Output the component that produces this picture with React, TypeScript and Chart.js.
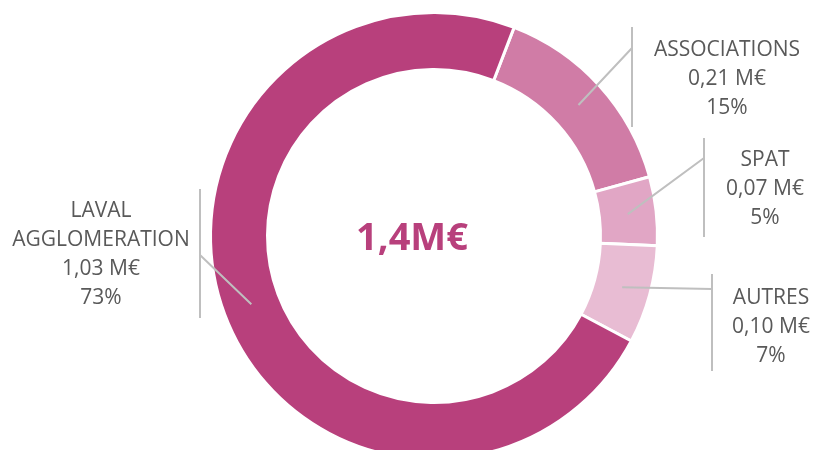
import React, { useEffect, useRef } from "react";
import { Chart, registerables } from "chart.js";

Chart.register(...registerables);

const categories: string[][] = [["ASSOCIATIONS"], ["SPAT"], ["AUTRES"], ["LAVAL", "AGGLOMERATION"]];
const values: number[] = [0.21, 0.07, 0.1, 1.03];
const colors: string[] = ["#D07CA6", "#E1A6C5", "#E8BCD3", "#B8407C"];

// annotation layout (label boxes / callout lines), canvas pixels
const labelLayout = [
  { lineX: 632, top: 27, bottom: 127, attachY: 48, textX: 727, firstBaseline: 56 },
  { lineX: 704, top: 138, bottom: 237, attachY: 158, textX: 765, firstBaseline: 166 },
  { lineX: 712, top: 274, bottom: 371, attachY: 289, textX: 771, firstBaseline: 304 },
  { lineX: 200, top: 189, bottom: 318, attachY: 255, textX: 101, firstBaseline: 217 },
];
const LINE_H = 29;

const fmt = (v: number, d: number) => v.toFixed(d).replace(".", ",");

export default function App() {
  const ref = useRef<HTMLCanvasElement | null>(null);
  useEffect(() => {
    if (!ref.current) return;
    const total = values.reduce((a, b) => a + b, 0);
    const labelPlugin = {
      id: "labels",
      afterDraw(chart: any) {
        const ctx = chart.ctx;
        const meta = chart.getDatasetMeta(0);
        ctx.save();
        const a0 = meta.data[0];
        ctx.fillStyle = "#B8407C";
        ctx.font = "bold 38px 'Open Sans'";
        ctx.textAlign = "center";
        ctx.textBaseline = "alphabetic";
        ctx.fillText(fmt(total, 1) + "M€", a0.x - 22, a0.y + 14);
        meta.data.forEach((arc: any, i: number) => {
          const L = labelLayout[i];
          const mid = (arc.startAngle + arc.endAngle) / 2;
          const r = (arc.innerRadius + arc.outerRadius) / 2;
          const px = arc.x + Math.cos(mid) * r;
          const py = arc.y + Math.sin(mid) * r;
          ctx.strokeStyle = "#BFBFBF";
          ctx.lineWidth = 2;
          ctx.beginPath();
          ctx.moveTo(L.lineX, L.top);
          ctx.lineTo(L.lineX, L.bottom);
          ctx.moveTo(L.lineX, L.attachY);
          ctx.lineTo(px, py);
          ctx.stroke();
          const lines = [
            ...categories[i],
            fmt(values[i], 2) + " M€",
            Math.round((values[i] / total) * 100) + "%",
          ];
          ctx.fillStyle = "#595959";
          ctx.font = "21px 'Open Sans'";
          ctx.textAlign = "center";
          lines.forEach((t, k) => ctx.fillText(t, L.textX, L.firstBaseline + k * LINE_H));
        });
        ctx.restore();
      },
    };
    const chart = new Chart(ref.current, {
      type: "doughnut",
      data: {
        labels: categories.map((c) => c.join(" ")),
        datasets: [
          {
            data: values,
            backgroundColor: colors,
            borderColor: "#FFFFFF",
            borderWidth: 3,
          },
        ],
      },
      options: {
        responsive: false,
        animation: false,
        rotation: 21,
        radius: 223.5,
        cutout: "74.5%",
        layout: { padding: { left: 212, right: 160, top: 14, bottom: 12 } },
        plugins: { legend: { display: false }, tooltip: { enabled: false } },
      } as any,
      plugins: [labelPlugin],
    });
    return () => chart.destroy();
  }, []);
  return (
    <div style={{ position: "fixed", left: 0, top: 0, width: 816, height: 450, overflow: "hidden", background: "#fff" }}>
      <canvas ref={ref} width={816} height={470} style={{ display: "block" }} />
    </div>
  );
}
